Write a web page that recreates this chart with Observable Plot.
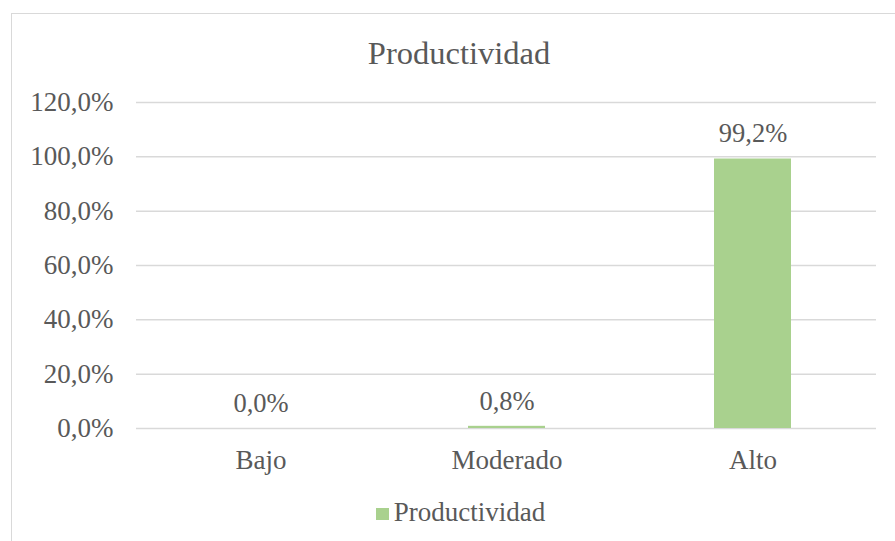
<!DOCTYPE html>
<html>
<head>
<meta charset="utf-8">
<script src="https://cdn.jsdelivr.net/npm/d3@7"></script>
<script src="https://cdn.jsdelivr.net/npm/@observablehq/plot@0.6"></script>
<style>
  html, body { margin: 0; padding: 0; background: #fff; }
  #wrap { position: relative; width: 895px; height: 541px; overflow: hidden; color: #595959; }
  .serif { font-family: 'Liberation Serif', Tinos, Times, serif; }
  #frame { position: absolute; left: 11px; top: 13px; width: 920px; height: 600px; border: 1.5px solid #d9d9d9; box-sizing: border-box; }
  #title { position: relative; height: 80px; text-align: center; font-size: 32.5px; line-height: 1; padding-left: 23px; box-sizing: border-box; }
  #title span { position: relative; top: 37px; }
  #chart { position: relative; height: 398px; }
  #legend { position: relative; height: 63px; display: flex; justify-content: center; align-items: flex-start; font-size: 27px; padding-left: 26px; box-sizing: border-box; }
  #legend .sw { display: inline-block; width: 13px; height: 12px; background: #a9d18e; margin-right: 5px; position: relative; top: 30px; }
  #legend .lb { position: relative; top: 21px; line-height: 1; }
  #chart svg text { font-family: 'Liberation Serif', Tinos, Times, serif; }
</style>
</head>
<body>
<div id="wrap" class="serif">
  <div id="frame"></div>
  <div id="title" class="serif"><span class="serif">Productividad</span></div>
  <div id="chart"></div>
  <div id="legend" class="serif"><span class="sw"></span><span class="lb serif">Productividad</span></div>
</div>
<script>
const categories = ["Bajo", "Moderado", "Alto"];
const values = [0.0, 0.008, 0.992];
const yTicks = [0, 0.2, 0.4, 0.6, 0.8, 1.0, 1.2];
const seriesName = "Productividad";

const data = categories.map((c, i) => ({ cat: c, val: values[i] }));
const fmt = d => (d * 100).toFixed(1).replace(".", ",") + "%";

const chart = Plot.plot({
  width: 895,
  height: 398,
  marginTop: 22,
  marginBottom: 50,
  marginLeft: 136,
  marginRight: 19,
  style: { fontFamily: "Liberation Serif", color: "#595959", background: "transparent" },
  x: { domain: categories, paddingInner: 0.688, paddingOuter: 0.344, label: null },
  y: { domain: [0, 1.2], ticks: yTicks, label: null },
  marks: [
    Plot.gridY(yTicks, { stroke: "#d9d9d9", strokeOpacity: 1, strokeWidth: 1.5 }),
    Plot.barY(data, { x: "cat", y: "val", fill: "#a9d18e" }),
    Plot.text(data, { x: "cat", y: "val", text: d => fmt(d.val), dy: -25, fontSize: 26.5, fill: "#595959" }),
    Plot.axisY(yTicks, { tickSize: 0, tickPadding: 23, tickFormat: fmt, fontSize: 27, fill: "#595959" }),
    Plot.axisX({ tickSize: 0, tickPadding: 21, fontSize: 27, fill: "#595959" })
  ]
});
document.getElementById("chart").appendChild(chart);
document.getElementById("legend").querySelector(".lb").textContent = seriesName;
</script>
</body>
</html>
